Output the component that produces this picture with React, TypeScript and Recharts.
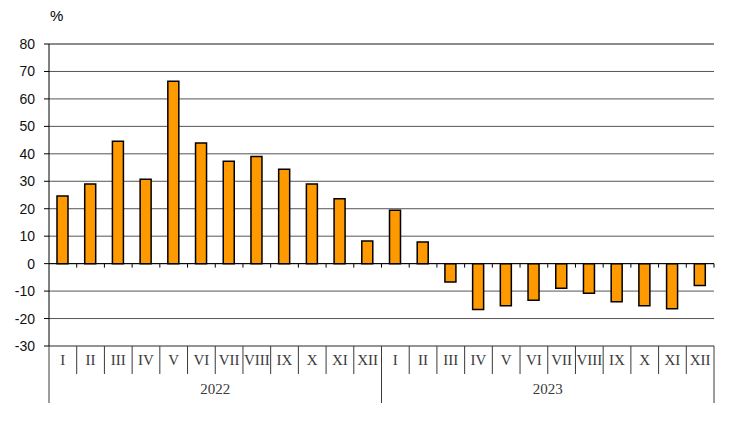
import { BarChart, Bar, XAxis, YAxis, CartesianGrid, ReferenceLine } from 'recharts';

const months = ['I', 'II', 'III', 'IV', 'V', 'VI', 'VII', 'VIII', 'IX', 'X', 'XI', 'XII'];
const years = ['2022', '2023'];
const values2022 = [24.6, 29.0, 44.6, 30.7, 66.4, 43.9, 37.3, 39.0, 34.4, 29.0, 23.6, 8.2];
const values2023 = [19.4, 7.9, -6.7, -16.7, -15.3, -13.3, -9.0, -10.8, -13.9, -15.3, -16.4, -8.0];
const yTicks = [-30, -20, -10, 0, 10, 20, 30, 40, 50, 60, 70, 80];

const data = [
  ...months.map((m, i) => ({ key: `${years[0]}-${m}`, month: m, year: years[0], value: values2022[i] })),
  ...months.map((m, i) => ({ key: `${years[1]}-${m}`, month: m, year: years[1], value: values2023[i] })),
];

const WIDTH = 740;
const HEIGHT = 430;
const MARGIN = { top: 44, right: 26, left: 0, bottom: 27 };
const Y_AXIS_W = 49;
const PLOT_W = WIDTH - MARGIN.left - MARGIN.right - Y_AXIS_W;
const MONTH_ROW = 28;
const YEAR_ROW = 29;
const LINE = '#3a3a3a';
const BORDER = '#8c8c8c';

const MonthTick = (props: any) => {
  const { x, y, payload, index } = props;
  const half = PLOT_W / data.length / 2;
  const row = data[index];
  const inYear = index % months.length;
  return (
    <g>
      <text x={x} y={y + 19} textAnchor="middle" fontFamily="'Liberation Serif', serif" fontSize={15} fill="#3a3a3a">
        {row ? row.month : payload.value}
      </text>
      {inYear < months.length - 1 && (
        <line x1={x + half} x2={x + half} y1={y} y2={y + MONTH_ROW} stroke={LINE} strokeWidth={1} />
      )}
      {inYear === 0 && (
        <line x1={x - half} x2={x - half} y1={y} y2={y + MONTH_ROW + YEAR_ROW} stroke={LINE} strokeWidth={1} />
      )}
      {inYear === months.length - 1 && (
        <line x1={x + half} x2={x + half} y1={y} y2={y + MONTH_ROW + YEAR_ROW} stroke={LINE} strokeWidth={1} />
      )}
      {inYear === months.length / 2 - 1 && row && (
        <text x={x + half} y={y + MONTH_ROW + 20} textAnchor="middle" fontFamily="'Liberation Serif', serif" fontSize={15} fill="#3a3a3a">
          {row.year}
        </text>
      )}
    </g>
  );
};

const ZeroLine = (props: any) => {
  const { x1, x2, y1 } = props;
  const step = (x2 - x1) / data.length;
  return (
    <g>
      <line x1={x1} x2={x2} y1={y1} y2={y1} stroke="#000" strokeWidth={1} />
      {data.map((_, i) => (
        <line key={i} x1={x1 + (i + 1) * step} x2={x1 + (i + 1) * step} y1={y1} y2={y1 + 4} stroke="#000" strokeWidth={1} />
      ))}
    </g>
  );
};

export default function App() {
  return (
    <div style={{ position: 'absolute', left: 0, top: 0, width: WIDTH, height: HEIGHT, background: '#fff' }}>
      <div style={{ position: 'absolute', left: 50, top: 7, fontFamily: "'Liberation Sans', Arial, sans-serif", fontSize: 15, color: '#000' }}>%</div>
      <BarChart width={WIDTH} height={HEIGHT} data={data} margin={MARGIN} barSize={11}>
        <CartesianGrid horizontal vertical={false} stroke="#555" strokeWidth={1} />
        <XAxis
          dataKey="key"
          interval={0}
          height={MONTH_ROW + YEAR_ROW}
          tickLine={false}
          axisLine={false}
          tickSize={0}
          tickMargin={0}
          tick={<MonthTick />}
        />
        <YAxis
          domain={[-30, 80]}
          ticks={yTicks}
          interval={0}
          width={Y_AXIS_W}
          tickSize={5}
          tickMargin={9}
          stroke="#000"
          tick={{ fontSize: 14, fill: '#111', fontFamily: "'Liberation Sans', Arial, sans-serif" }}
        />
        <YAxis yAxisId="right" orientation="right" width={0} tick={false} tickLine={false} stroke={BORDER} strokeWidth={2} />
        <ReferenceLine y={80} stroke={BORDER} strokeWidth={2} />
        <ReferenceLine y={-30} stroke={BORDER} strokeWidth={1.5} />
        <ReferenceLine y={0} shape={<ZeroLine />} />
        <Bar dataKey="value" fill="#FF9900" stroke="#000" strokeWidth={1.5} isAnimationActive={false} />
      </BarChart>
    </div>
  );
}
